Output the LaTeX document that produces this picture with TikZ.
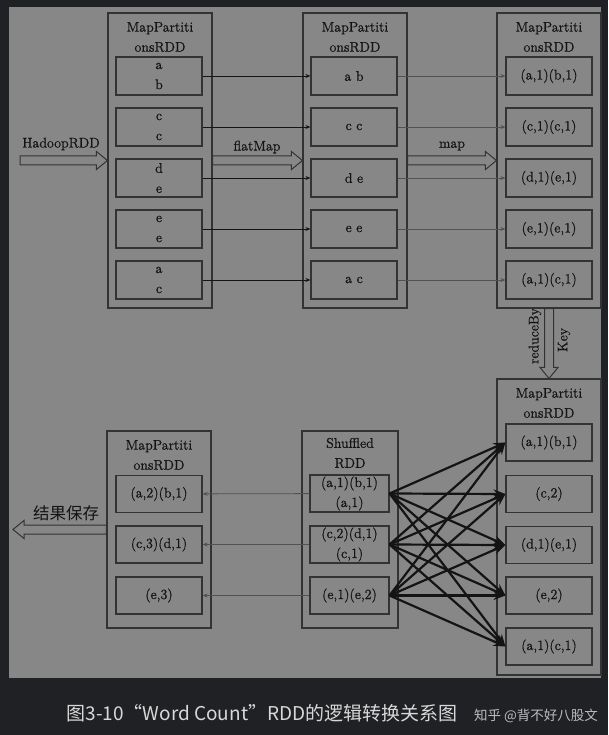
\documentclass[tikz,border=0pt]{standalone}
\usepackage{fontspec}
\usepackage{tikz}
\usetikzlibrary{arrows.meta,calc}
\newfontfamily\cjk{Noto Sans CJK SC}
\newfontfamily\rddfont{Latin Modern Roman}[FakeBold=0.8]

\definecolor{pagebg}{HTML}{202124}
\definecolor{panel}{HTML}{878787}
\definecolor{boxline}{HTML}{333333}
\definecolor{ink}{HTML}{141414}
\definecolor{thin}{HTML}{525252}
\definecolor{captext}{HTML}{D8D8D8}

\newcommand{\boxfont}{\rddfont\fontsize{14}{20}\selectfont}

% hollow block arrow from #1 to #2
\newcommand{\fatarrow}[2]{%
  \draw[fat] let \p1=(#1), \p2=(#2),
    \n1={atan2(\y2-\y1,\x2-\x1)}, \n2={veclen(\x2-\x1,\y2-\y1)} in
    [shift={(\p1)}, rotate=\n1]
    (0pt,-4.5pt) -- ({(\n2-11)*1pt},-4.5pt) -- ({(\n2-11)*1pt},-9pt) -- ({\n2*1pt},0pt)
    -- ({(\n2-11)*1pt},9pt) -- ({(\n2-11)*1pt},4.5pt) -- (0pt,4.5pt) -- cycle;}

\tikzset{
  rdd/.style={draw=boxline, line width=1.1pt, minimum width=104pt, inner sep=0pt},
  part/.style={draw=boxline, line width=1.1pt, minimum width=86pt, minimum height=38pt,
    inner sep=0pt, align=center, font=\boxfont, text=ink},
  title/.style={align=center, font=\boxfont, text=ink, inner sep=0pt},
  lbl/.style={font=\boxfont, text=ink, inner sep=0pt},
  fat/.style={draw=boxline, line width=1pt},
  dark/.style={draw=ink, line width=0.9pt, -{Stealth[length=5pt,width=4pt]}},
  pale/.style={draw=thin, line width=0.8pt, -{Stealth[length=5pt,width=4pt]}},
  fan/.style={draw=ink, line width=2.2pt, -{Stealth[length=12pt,width=9pt]}},
}

\begin{document}
\begin{tikzpicture}[x=1pt, y=-1pt]
    \fill[pagebg] (0,0) rectangle (608,735);
    \fill[panel] (9,7) rectangle (601,678);

    % first row
    \node[rdd, minimum height=295pt] (A) at (160,160.5) {};
    \node[title] (TA) at (160,37) {MapPartiti\\onsRDD};
    \node[part] (a1) at (159,76) {a\\b};
    \node[part] (a2) at (159,127) {c\\c};
    \node[part] (a3) at (159,178) {d\\e};
    \node[part] (a4) at (159,229) {e\\e};
    \node[part] (a5) at (159,280) {a\\c};

    \node[rdd, minimum height=295pt] (B) at (355,160.5) {};
    \node[title] (TB) at (355,37) {MapPartiti\\onsRDD};
    \node[part] (b1) at (354,76) {a b};
    \node[part] (b2) at (354,127) {c c};
    \node[part] (b3) at (354,178) {d e};
    \node[part] (b4) at (354,229) {e e};
    \node[part] (b5) at (354,280) {a c};

    \node[rdd, minimum height=295pt] (C) at (549,160.5) {};
    \node[title] (TC) at (549,37) {MapPartiti\\onsRDD};
    \node[part] (c1) at (549,76) {(a,1)(b,1)};
    \node[part] (c2) at (549,127) {(c,1)(c,1)};
    \node[part] (c3) at (549,178) {(d,1)(e,1)};
    \node[part] (c4) at (549,229) {(e,1)(e,1)};
    \node[part] (c5) at (549,280) {(a,1)(c,1)};

    % second row
    \node[rdd, minimum height=296pt] (D) at (549,527) {};
    \node[title] (TD) at (549,403) {MapPartiti\\onsRDD};
    \node[part, minimum height=37pt] (d1) at (549,442.5) {(a,1)(b,1)};
    \node[part, minimum height=37pt] (d2) at (549,494) {(c,2)};
    \node[part, minimum height=37pt] (d3) at (549,545) {(d,1)(e,1)};
    \node[part, minimum height=37pt] (d4) at (549,595.5) {(e,2)};
    \node[part, minimum height=37pt] (d5) at (549,646.5) {(a,1)(c,1)};

    \node[rdd, minimum width=96pt, minimum height=197pt] (S) at (350,529.5) {};
    \node[title] (TS) at (350,453) {Shuffled\\RDD};
    \node[part, minimum width=79pt, minimum height=37pt] (s1) at (349.5,493.5) {(a,1)(b,1)\\(a,1)};
    \node[part, minimum width=79pt, minimum height=37pt] (s2) at (349.5,544.5) {(c,2)(d,1)\\(c,1)};
    \node[part, minimum width=79pt, minimum height=37pt] (s3) at (349.5,595.5) {(e,1)(e,2)};

    \node[rdd, minimum height=197pt] (R) at (159,529.5) {};
    \node[title] (TR) at (159,455) {MapPartiti\\onsRDD};
    \node[part, minimum height=37pt] (r1) at (159,494) {(a,2)(b,1)};
    \node[part, minimum height=37pt] (r2) at (159,544.5) {(c,3)(d,1)};
    \node[part, minimum height=37pt] (r3) at (159,595.5) {(e,3)};

    % block arrows and their labels
    \coordinate (in) at (20,160.5);
    \coordinate (out) at (13,529.5);
    \fatarrow{in}{A.west}
    \fatarrow{A.east}{B.west}
    \fatarrow{B.east}{C.west}
    \fatarrow{C.south}{D.north}
    \fatarrow{R.west}{out}
    \node[lbl] (lh) at (61,144) {HadoopRDD};
    \node[lbl] (lf) at (257,147) {flatMap};
    \node[lbl] (lm) at (452,146) {map};
    \node[lbl, rotate=90] (lr) at (535,336) {reduceBy};
    \node[lbl, rotate=90] (lk) at (564,340) {Key};
    \node[font=\cjk\fontsize{16.5}{18}\selectfont, text=ink, inner sep=0pt] (ls) at (66,513) {结果保存};

    % partition arrows
    \draw[dark] (a1) -- (b1);
    \draw[dark] (a2) -- (b2);
    \draw[dark] (a3) -- (b3);
    \draw[dark] (a4) -- (b4);
    \draw[dark] (a5) -- (b5);
    \draw[pale] (b1) -- (c1);
    \draw[pale] (b2) -- (c2);
    \draw[pale] (b3) -- (c3);
    \draw[pale] (b4) -- (c4);
    \draw[pale] (b5) -- (c5);
    \draw[pale] (s1) -- (r1);
    \draw[pale] (s2) -- (r2);
    \draw[pale] (s3) -- (r3);

    % shuffle
    \draw[fan] (s1.east) -- (d1.west);
    \draw[fan] (s1.east) -- (d2.west);
    \draw[fan] (s1.east) -- (d3.west);
    \draw[fan] (s1.east) -- (d4.west);
    \draw[fan] (s1.east) -- (d5.west);
    \draw[fan] (s2.east) -- (d1.west);
    \draw[fan] (s2.east) -- (d2.west);
    \draw[fan] (s2.east) -- (d3.west);
    \draw[fan] (s2.east) -- (d4.west);
    \draw[fan] (s2.east) -- (d5.west);
    \draw[fan] (s3.east) -- (d1.west);
    \draw[fan] (s3.east) -- (d2.west);
    \draw[fan] (s3.east) -- (d3.west);
    \draw[fan] (s3.east) -- (d4.west);
    \draw[fan] (s3.east) -- (d5.west);

    \node[font=\cjk\fontsize{19}{22}\selectfont, text=captext, inner sep=0pt] (cap) at (262,713) {图3-10“Word Count”RDD的逻辑转换关系图};
    \node[font=\cjk\fontsize{13.5}{16}\selectfont, text=captext, anchor=east, inner sep=0pt, opacity=0.85] (wm) at (598,716) {知乎 @背不好八股文};
\end{tikzpicture}
\end{document}
